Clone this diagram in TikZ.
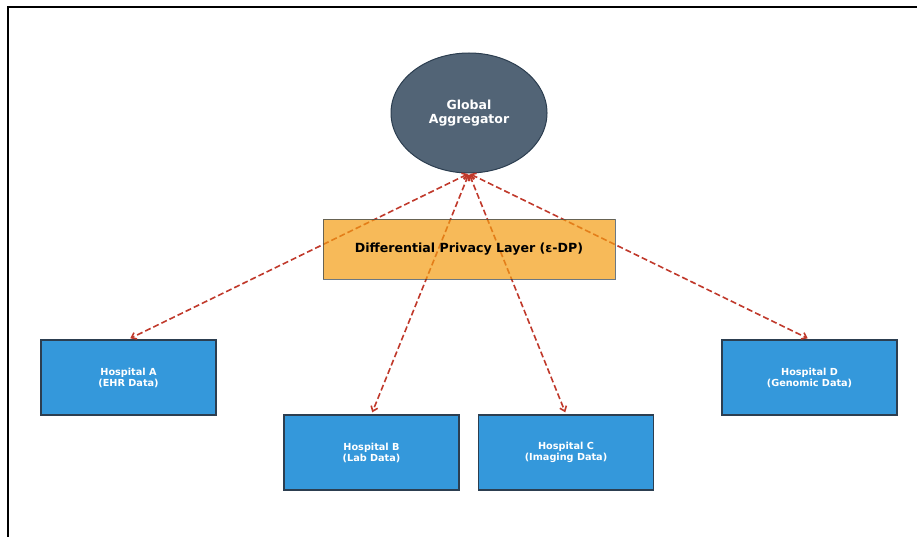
\documentclass[tikz,border=0pt]{standalone}
\usepackage{fontspec}
\setmainfont{DejaVu Sans}
\usetikzlibrary{arrows.meta,shapes.geometric}

\definecolor{slate}{HTML}{34495E}
\definecolor{slateline}{HTML}{2C3E50}
\definecolor{hospblue}{HTML}{3498DB}
\definecolor{dporange}{HTML}{F39C12}
\definecolor{linkred}{HTML}{C0392B}

\begin{document}
\begin{tikzpicture}[x=1pt,y=-1pt,
    aggregator/.style={ellipse,draw=slateline,line width=1pt,fill=slate,fill opacity=0.85,text opacity=1,
        minimum width=156pt,minimum height=120pt,inner sep=0pt,text=white,align=center,
        font=\fontsize{12.5}{13.5}\selectfont\bfseries},
    hospital/.style={rectangle,draw=slateline,line width=1.6pt,fill=hospblue,
        minimum width=175pt,minimum height=75pt,inner sep=0pt,text=white,align=center,
        font=\fontsize{9.7}{11}\selectfont\bfseries},
    dplayer/.style={rectangle,draw=slateline,line width=0.8pt,fill=dporange,opacity=0.7,text opacity=1,
        minimum width=292pt,minimum height=60pt,inner sep=0pt,
        font=\fontsize{12.6}{14}\selectfont\bfseries},
    link/.style={{Straight Barb[length=4.5pt,width=7pt]}-{Straight Barb[length=4.5pt,width=7pt]},
        linkred,line width=1.6pt,dash pattern=on 6pt off 3pt,shorten <=1pt,shorten >=2pt}]
    \useasboundingbox (0,0) rectangle (917,537);
    % frame
    \draw[line width=2pt] (8,560) -- (8,7) -- (940,7);

    \node[aggregator] (agg) at (469,113) {Global\\Aggregator};

    \node[hospital] (hA) at (128.5,377.5) {Hospital A\\(EHR Data)};
    \node[hospital] (hB) at (371.5,452.5) {Hospital B\\(Lab Data)};
    \node[hospital] (hC) at (566,452.5) {Hospital C\\(Imaging Data)};
    \node[hospital] (hD) at (809.5,377.5) {Hospital D\\(Genomic Data)};

    \foreach \h in {hA,hB,hC,hD}
        \draw[link] (agg.south) -- (\h.north);

    \node[dplayer] (dp) at (469,249) {Differential Privacy Layer (ε-DP)};
\end{tikzpicture}
\end{document}
